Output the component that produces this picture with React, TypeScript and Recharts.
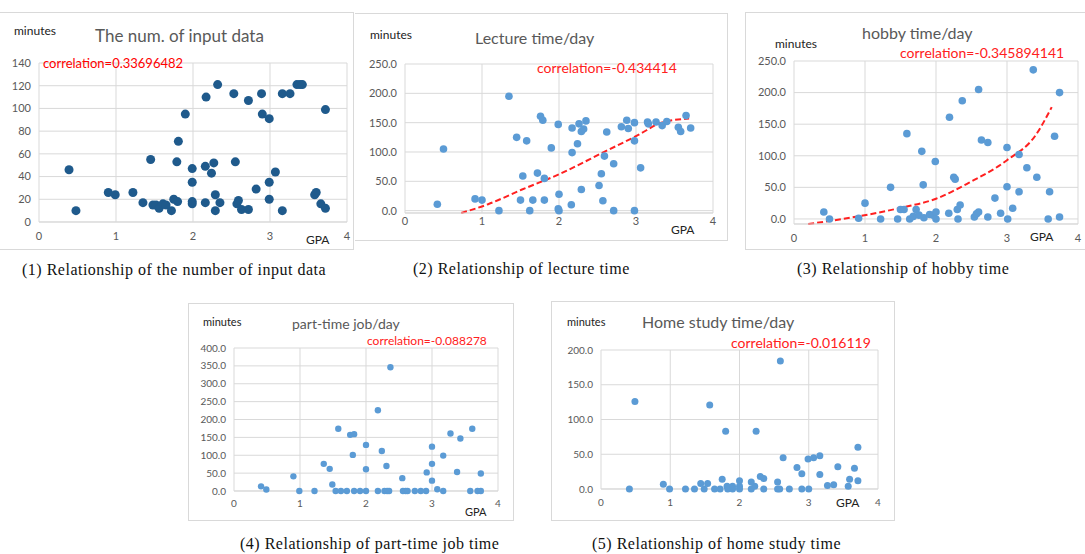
import React from 'react';
import { ComposedChart, Scatter, Line, XAxis, YAxis, CartesianGrid } from 'recharts';

// GPA on x, minutes on y
const GPA_TICKS = [0, 1, 2, 3, 4];

const inputDataPts: [number, number][] = [
  [0.39, 46], [0.48, 10], [0.9, 26], [0.99, 24], [1.22, 26], [1.35, 17], [1.45, 55],
  [1.48, 15], [1.52, 15], [1.56, 12], [1.61, 16], [1.65, 15], [1.72, 10], [1.75, 20],
  [1.8, 18], [1.79, 53], [1.81, 71], [1.9, 95], [1.99, 47], [1.99, 35], [1.99, 18],
  [1.99, 16], [2.16, 17], [2.16, 49], [2.17, 110], [2.24, 43], [2.27, 52], [2.29, 24],
  [2.29, 10], [2.32, 121], [2.35, 17], [2.53, 113], [2.55, 53], [2.57, 16], [2.59, 19],
  [2.63, 11], [2.72, 107], [2.72, 11], [2.82, 29], [2.89, 113], [2.9, 95], [2.99, 91],
  [2.99, 35], [2.99, 20], [3.07, 44], [3.16, 10], [3.16, 113], [3.26, 113], [3.35, 121],
  [3.39, 121], [3.42, 121], [3.58, 24], [3.6, 26], [3.66, 16], [3.72, 12], [3.72, 99],
];

const lecturePts: [number, number][] = [
  [0.42, 11], [0.5, 105], [0.91, 20], [1.0, 18], [1.22, 0], [1.35, 195], [1.45, 125],
  [1.58, 119], [1.5, 18], [1.53, 59], [1.62, 0], [1.66, 18], [1.72, 64], [1.76, 161],
  [1.79, 154], [1.81, 55], [1.81, 18], [1.9, 107], [1.99, 147], [2.0, 28], [1.99, 3],
  [2.0, 0], [2.16, 10], [2.17, 99], [2.17, 141], [2.24, 114], [2.26, 148], [2.29, 36],
  [2.29, 135], [2.32, 139], [2.35, 153], [2.52, 43], [2.55, 63], [2.57, 17], [2.59, 93],
  [2.62, 134], [2.71, 80], [2.71, 0], [2.81, 143], [2.88, 154], [2.9, 140], [2.98, 150],
  [2.98, 119], [2.98, 0], [3.06, 73], [3.15, 151], [3.16, 148], [3.26, 151], [3.34, 145],
  [3.4, 152], [3.55, 142], [3.58, 135], [3.65, 162], [3.71, 141],
];
const lectureTrend: [number, number][] = [
  [0.73, -4], [1.08, 11], [1.52, 36], [2.0, 62], [2.6, 101], [3.03, 129], [3.33, 150], [3.69, 157],
];

const hobbyPts: [number, number][] = [
  [0.42, 11], [0.5, 0], [0.91, 1], [1.0, 25], [1.22, 0], [1.36, 50], [1.46, 0], [1.5, 15],
  [1.55, 15], [1.59, 135], [1.63, 0], [1.68, 4], [1.72, 15], [1.76, 6], [1.8, 107],
  [1.82, 54], [1.83, 2], [1.91, 7], [1.96, 6], [1.99, 91], [2.0, 11], [2.0, 0], [2.18, 9],
  [2.19, 161], [2.25, 66], [2.27, 63], [2.3, 15], [2.31, 0], [2.34, 22], [2.37, 187],
  [2.54, 3], [2.57, 8], [2.6, 11], [2.6, 205], [2.64, 125], [2.73, 121], [2.73, 3],
  [2.83, 33], [2.91, 9], [3.0, 113], [3.0, 51], [3.01, 0], [3.08, 17], [3.17, 102],
  [3.17, 43], [3.28, 81], [3.37, 236], [3.42, 66], [3.58, 0], [3.6, 43], [3.67, 131],
  [3.74, 200], [3.74, 3],
];
const hobbyTrend: [number, number][] = [
  [0.2, -8], [1.05, 7], [1.52, 18], [2.0, 32], [2.46, 57], [3.0, 93], [3.4, 132], [3.63, 177],
];

const partTimePts: [number, number][] = [
  [0.41, 13], [0.49, 4], [0.9, 41], [0.99, 0], [1.22, 0], [1.36, 76], [1.45, 62], [1.49, 18],
  [1.54, 0], [1.58, 174], [1.62, 0], [1.71, 0], [1.76, 157], [1.8, 101], [1.82, 159],
  [1.82, 0], [1.91, 0], [2.0, 129], [2.0, 61], [2.0, 0], [2.18, 226], [2.18, 0], [2.24, 112],
  [2.28, 0], [2.31, 70], [2.32, 0], [2.35, 0], [2.37, 346], [2.55, 36], [2.56, 0], [2.6, 0],
  [2.63, 0], [2.74, 0], [2.83, 0], [2.92, 52], [2.91, 0], [3.0, 124], [3.0, 76], [3.0, 29],
  [3.08, 5], [3.17, 99], [3.17, 0], [3.28, 161], [3.38, 53], [3.43, 147], [3.58, 0],
  [3.61, 174], [3.69, 0], [3.74, 49], [3.74, 0],
];

const homeStudyPts: [number, number][] = [
  [0.41, 0], [0.49, 126], [0.9, 7], [0.99, 0], [1.22, 0], [1.35, 0], [1.44, 8], [1.49, 0],
  [1.54, 8], [1.57, 121], [1.64, 0], [1.72, 0], [1.75, 14], [1.8, 83], [1.82, 4], [1.83, 0],
  [1.9, 4], [1.9, 0], [2.0, 12], [2.0, 4], [2.0, 0], [2.17, 10], [2.17, 0], [2.22, 4],
  [2.24, 83], [2.3, 18], [2.35, 15], [2.35, 0], [2.55, 10], [2.55, 0], [2.58, 0], [2.59, 184],
  [2.63, 45], [2.72, 0], [2.83, 31], [2.9, 22], [2.9, 0], [2.99, 43], [3.0, 0], [3.07, 45],
  [3.16, 48], [3.16, 21], [3.27, 5], [3.36, 6], [3.42, 32], [3.57, 4], [3.59, 14], [3.66, 30],
  [3.71, 60], [3.71, 12],
];

const inputTicks = [0, 20, 40, 60, 80, 100, 120, 140];
const lectureTicks = [0, 50, 100, 150, 200, 250];
const hobbyTicks = [0, 50, 100, 150, 200, 250];
const partTimeTicks = [0, 50, 100, 150, 200, 250, 300, 350, 400];
const homeStudyTicks = [0, 50, 100, 150, 200];

const SANS = 'Lato, "Open Sans", sans-serif';
const SERIF = '"Liberation Serif", "DejaVu Serif", serif';
const GRID = '#d9d9d9';
const TICK_GRAY = '#595959';

type Box = { left: number; top: number; width: number; height: number };
type Plot = { left: number; top: number; right: number; bottom: number };

interface PanelProps {
  box: Box;
  plot: Plot;
  points: [number, number][];
  trend?: [number, number][];
  yTicks: number[];
  decimals: number;
  color: string;
  r: number;
  tickFont: number;
  xTickGap: number;
  showLeftBorder?: boolean;
}

function Panel({ box, plot, points, trend, yTicks, decimals, color, r, tickFont, xTickGap, showLeftBorder = true }: PanelProps) {
  const data = points.map(([x, y]) => ({ x, y }));
  const trendData = trend ? trend.map(([x, y]) => ({ x, y })) : [];
  const xAxisH = box.top + box.height - plot.bottom - 4;
  const tick = { fill: TICK_GRAY, fontSize: tickFont, fontFamily: SANS };
  return (
    <>
      <div
        style={{
          position: 'absolute',
          left: box.left,
          top: box.top,
          width: box.width,
          height: box.height,
          boxSizing: 'border-box',
          border: `1px solid ${GRID}`,
          borderLeft: showLeftBorder ? `1px solid ${GRID}` : 'none',
          background: '#fff',
        }}
      />
      <div style={{ position: 'absolute', left: box.left, top: box.top }}>
        <ComposedChart
          width={box.width}
          height={box.height}
          margin={{ top: plot.top - box.top, right: box.left + box.width - plot.right, bottom: 4, left: 0 }}
        >
          <CartesianGrid stroke={GRID} />
          <XAxis
            dataKey="x"
            type="number"
            domain={[0, 4]}
            ticks={GPA_TICKS}
            interval={0}
            height={xAxisH}
            axisLine={{ stroke: GRID }}
            tickLine={false}
            tickSize={0}
            tickMargin={xTickGap}
            tick={tick}
          />
          <YAxis
            dataKey="y"
            type="number"
            domain={[0, yTicks[yTicks.length - 1]]}
            ticks={yTicks}
            interval={0}
            width={plot.left - box.left}
            axisLine={false}
            tickLine={false}
            tickSize={0}
            tickMargin={8}
            tick={tick}
            tickFormatter={(v: number) => v.toFixed(decimals)}
          />
          <Scatter
            data={data}
            fill={color}
            isAnimationActive={false}
            shape={(p: any) => <circle cx={p.cx} cy={p.cy} r={r} fill={color} />}
          />
          {trend && (
            <Line
              data={trendData}
              dataKey="y"
              type="monotone"
              stroke="#ff2020"
              strokeWidth={2}
              strokeDasharray="6 3"
              dot={false}
              activeDot={false}
              isAnimationActive={false}
            />
          )}
        </ComposedChart>
      </div>
    </>
  );
}

function Txt({ x, y, size, color, children, font = SANS, weight = 400, spacing = 0 }: any) {
  return (
    <div
      style={{
        position: 'absolute',
        left: x,
        top: y,
        fontSize: size,
        color,
        fontFamily: font,
        fontWeight: weight,
        letterSpacing: spacing,
        whiteSpace: 'nowrap',
        lineHeight: 1,
      }}
    >
      {children}
    </div>
  );
}

export default function App() {
  return (
    <div style={{ position: 'absolute', left: 0, top: 0, width: 1085, height: 554, background: '#fff', overflow: 'hidden' }}>
      {/* (1) */}
      <Panel
        box={{ left: -2, top: 12, width: 356, height: 238 }}
        plot={{ left: 39, top: 63, right: 347, bottom: 222 }}
        points={inputDataPts}
        yTicks={inputTicks}
        decimals={0}
        color="#1f5a8c"
        r={4.5}
        tickFont={11}
        xTickGap={10}
        showLeftBorder={false}
      />
      <Txt x={14} y={25} size={12} color="#222">minutes</Txt>
      <Txt x={95} y={27} size={17} color={TICK_GRAY}>The num. of input data</Txt>
      <Txt x={43} y={57} size={13} color="#ff0000">correlation=0.33696482</Txt>
      <Txt x={306} y={234} size={12} color="#222">GPA</Txt>

      {/* (2) */}
      <Panel
        box={{ left: 355, top: 13, width: 373, height: 228 }}
        plot={{ left: 405, top: 64, right: 713, bottom: 213 }}
        points={lecturePts}
        trend={lectureTrend}
        yTicks={lectureTicks}
        decimals={1}
        color="#5b9bd5"
        r={3.8}
        tickFont={11}
        xTickGap={4}
        showLeftBorder={false}
      />
      <Txt x={370} y={29} size={12} color="#222">minutes</Txt>
      <Txt x={475} y={30} size={16} color={TICK_GRAY}>Lecture time/day</Txt>
      <Txt x={537} y={61} size={14} color="#ff2020">correlation=-0.434414</Txt>
      <Txt x={671} y={224} size={12} color="#222">GPA</Txt>

      {/* (3) */}
      <Panel
        box={{ left: 745, top: 12, width: 342, height: 238 }}
        plot={{ left: 794, top: 61, right: 1078, bottom: 224 }}
        points={hobbyPts}
        trend={hobbyTrend}
        yTicks={hobbyTicks}
        decimals={1}
        color="#5b9bd5"
        r={3.8}
        tickFont={11}
        xTickGap={10}
      />
      <Txt x={775} y={38} size={12} color="#222">minutes</Txt>
      <Txt x={862} y={25} size={16} color={TICK_GRAY}>hobby time/day</Txt>
      <Txt x={900} y={46} size={14} color="#ff2020">correlation=-0.345894141</Txt>
      <Txt x={1030} y={231} size={12} color="#222">GPA</Txt>

      {/* (4) */}
      <Panel
        box={{ left: 188, top: 303, width: 326, height: 218 }}
        plot={{ left: 234, top: 348, right: 498, bottom: 491 }}
        points={partTimePts}
        yTicks={partTimeTicks}
        decimals={1}
        color="#5b9bd5"
        r={3.2}
        tickFont={10}
        xTickGap={9}
      />
      <Txt x={203} y={316} size={11} color="#222">minutes</Txt>
      <Txt x={292} y={317} size={14} color={TICK_GRAY}>part-time job/day</Txt>
      <Txt x={367} y={335} size={12} color="#ff2020">correlation=-0.088278</Txt>
      <Txt x={465} y={506} size={11} color="#222">GPA</Txt>

      {/* (5) */}
      <Panel
        box={{ left: 551, top: 301, width: 344, height: 220 }}
        plot={{ left: 601, top: 350, right: 878, bottom: 489 }}
        points={homeStudyPts}
        yTicks={homeStudyTicks}
        decimals={1}
        color="#5b9bd5"
        r={3.5}
        tickFont={10}
        xTickGap={10}
      />
      <Txt x={567} y={316} size={11} color="#222">minutes</Txt>
      <Txt x={642} y={314} size={16} color={TICK_GRAY}>Home study time/day</Txt>
      <Txt x={731} y={336} size={14} color="#ff2020">correlation=-0.016119</Txt>
      <Txt x={836} y={497} size={12} color="#222">GPA</Txt>

      {/* captions */}
      <Txt x={22} y={262} size={16} spacing={0.5} color="#111" font={SERIF}>(1) Relationship of the number of input data</Txt>
      <Txt x={413} y={261} size={16} spacing={0.5} color="#111" font={SERIF}>(2) Relationship of lecture time</Txt>
      <Txt x={797} y={261} size={16} spacing={0.5} color="#111" font={SERIF}>(3) Relationship of hobby time</Txt>
      <Txt x={240} y={536} size={16} spacing={0.5} color="#111" font={SERIF}>(4) Relationship of part-time job time</Txt>
      <Txt x={592} y={536} size={16} spacing={0.5} color="#111" font={SERIF}>(5) Relationship of home study time</Txt>
    </div>
  );
}
